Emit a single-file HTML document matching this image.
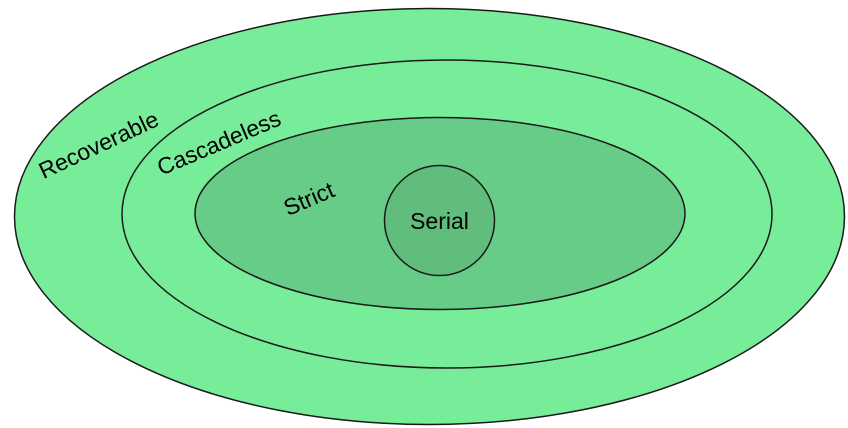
<!DOCTYPE html>
<html><head><style>html,body{margin:0;padding:0;background:#fff;}svg{display:block}</style></head>
<body>
<svg width="848" height="428" viewBox="0 0 848 428" xmlns="http://www.w3.org/2000/svg" font-family="Liberation Sans, Arial, sans-serif">
<ellipse cx="429.5" cy="216.5" rx="415" ry="208" fill="#77ec99" stroke="#1a1a1a" stroke-width="1.5"/>
<ellipse cx="447" cy="214" rx="325" ry="154" fill="#77ec99" stroke="#1a1a1a" stroke-width="1.5"/>
<ellipse cx="440" cy="213.5" rx="245" ry="96" fill="#66cc88" stroke="#1a1a1a" stroke-width="1.5"/>
<circle cx="439.5" cy="220.5" r="55" fill="#60bd7c" stroke="#1a1a1a" stroke-width="1.5"/>
<g font-size="23" fill="#000" text-anchor="middle">
<text transform="translate(102,152) rotate(-25)">Recoverable</text>
<text transform="translate(222,150) rotate(-23)">Cascadeless</text>
<text transform="translate(312,206) rotate(-23)">Strict</text>
<text x="439.5" y="229" font-size="23">Serial</text>
</g>
</svg>
</body></html>
